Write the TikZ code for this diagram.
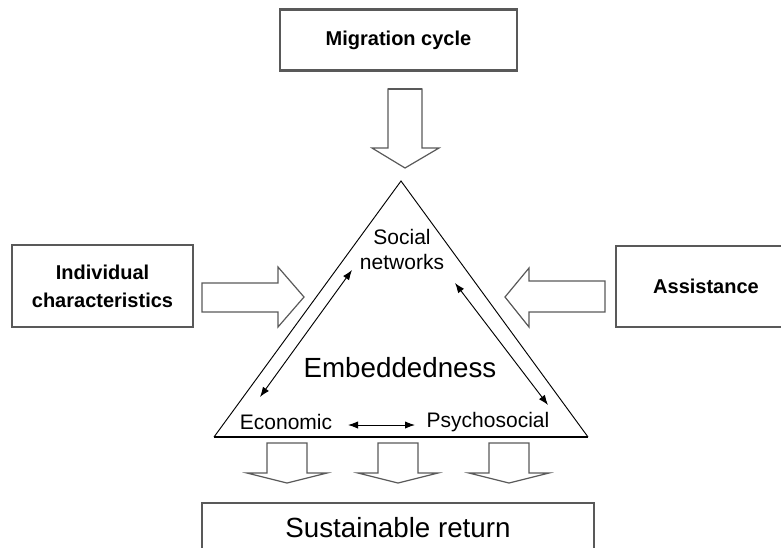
\documentclass[tikz,border=0pt]{standalone}
\usepackage{fontspec}
\setmainfont{Liberation Sans}
\usetikzlibrary{arrows.meta}

\definecolor{linegray}{rgb}{0.35,0.35,0.35}

\tikzset{
  box/.style={draw=linegray, line width=0.9pt, inner sep=0pt, align=center},
  boldlabel/.style={font=\fontsize{15}{21}\selectfont\bfseries},
  smalllabel/.style={font=\fontsize{15.75}{18.75}\selectfont, align=center},
  biglabel/.style={font=\fontsize{20.8}{25}\selectfont},
  blockarrow/.style={draw=linegray, line width=0.9pt, line join=miter},
  twoway/.style={{Latex[length=7.5pt,width=5.5pt]}-{Latex[length=7.5pt,width=5.5pt]}, line width=0.7pt}
}

\begin{document}
\begin{tikzpicture}[x=0.75pt, y=-0.75pt]
\useasboundingbox (0,0) rectangle (781,547);
\clip (0,0) rectangle (781,547);

% boxes
\node[box, boldlabel, minimum width=177.75pt, minimum height=45pt] (migr) at (398.5,40) {Migration cycle};
\draw[linegray, line width=2pt] (migr.north west) -- (migr.north east);
\draw[linegray, line width=2pt] (migr.south west) -- (migr.south east);
\node[box, boldlabel, minimum width=135.75pt, minimum height=61.5pt] (indiv) at (102.5,286) {Individual\\characteristics};
\node[box, boldlabel, minimum width=135pt, minimum height=60.75pt] (assist) at (706,286.5) {Assistance};
\node[box, biglabel, minimum width=294pt, minimum height=37.5pt] (sust) at (398,528) {Sustainable return};

% triangle
\coordinate (apex) at (401,181);
\coordinate (bl) at (214,437);
\coordinate (br) at (588,437);
\draw[black, line width=0.7pt] (bl) -- (apex) -- (br);
\draw[black, line width=1.5pt] (bl) -- (br);

\node[smalllabel] (social) at (402,249) {Social\\networks};
\node[biglabel] (embed) at (400,368) {Embeddedness};
\node[smalllabel] (econ) at (286,422) {Economic};
\node[smalllabel] (psych) at (488,422) {Psychosocial};

% two-way arrows
\coordinate (s1) at (352,270);
\coordinate (e1) at (260,397);
\coordinate (s2) at (455,283);
\coordinate (p2) at (548,405);
\coordinate (e3) at (348,425);
\coordinate (p3) at (415,425);
\draw[twoway] (e1) -- (s1);
\draw[twoway] (s2) -- (p2);
\draw[twoway] (e3) -- (p3);

% block arrows
\draw[blockarrow] (388,89) -- (388,148) -- (372,148) -- (405,168) -- (439,148) -- (422,148) -- (422,89) -- cycle;
\draw[linegray, line width=2pt] (388,89) -- (422,89);
\draw[blockarrow] (202,283) -- (278,283) -- (278,267) -- (304,297) -- (278,327) -- (278,312) -- (202,312) -- cycle;
\draw[blockarrow] (605,281) -- (529,281) -- (529,268) -- (505,297) -- (529,327) -- (529,312) -- (605,312) -- cycle;
\foreach \xc in {287,398,509}
  \draw[blockarrow] (\xc-20,443) -- (\xc-20,473) -- (\xc-40,473) -- (\xc,483) -- (\xc+40,473) -- (\xc+20,473) -- (\xc+20,443) -- cycle;

\end{tikzpicture}
\end{document}
